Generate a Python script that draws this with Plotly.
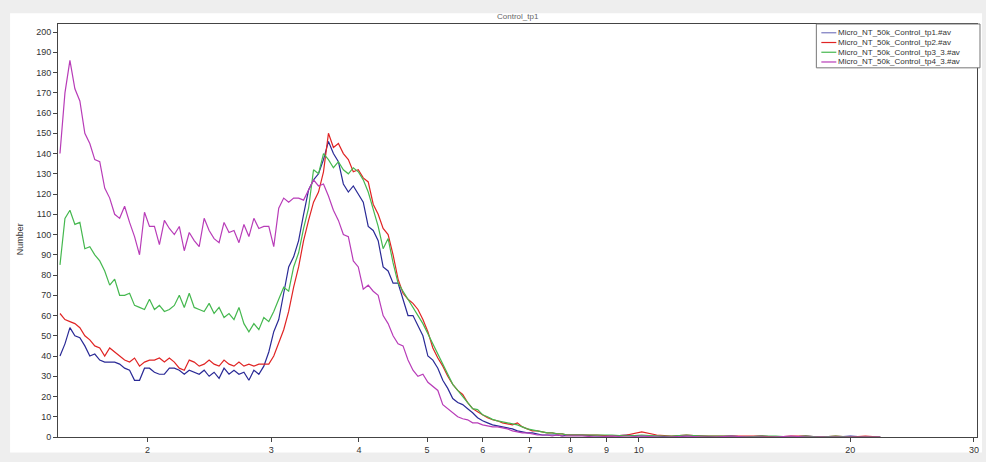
import numpy as np
import plotly.graph_objects as go

# Particle diameter bins (log-spaced instrument bins)
diam_main = np.geomspace(1.5017, 7.910, 103)
diam_tail = np.geomspace(8.31, 22.07, 21)
diameters = np.concatenate([diam_main, diam_tail])

names = ["Micro_NT_50k_Control_tp1.#av", "Micro_NT_50k_Control_tp2.#av",
         "Micro_NT_50k_Control_tp3_3.#av", "Micro_NT_50k_Control_tp4_3.#av"]

tp1_main = [40,46,54,50,49,45,40,41,38,37,
            37,37,36,34,33,28,28,34,34,32,
            31,31,34,34,33,31,33,32,31,33,
            30,32,29,34,31,33,31,32,28,33,
            31,35,42,52,58,71,84,89,97,110,
            122,127,130,137,146,140,136,125,121,124,
            120,116,104,102,97,84,82,76,76,68,
            60,60,55,50,40,38,34,28,24,19,
            17,16,14,12,9.5,8,7,6,5.5,5,
            4.5,4,3,2.5,2,2,1.5,1,1,1,
            1,0.5,1]
tp1_tail = [1,0.5,0.5,1,0.5,0.5,0,0.5,0.5,0,0.5,0,0.5,0,0,0.5,0,0,0.5,0,0]

tp2_main = [61,58,57,56,54,50,48,45,44,40,
            44,42,40,38,37,39,35,37,38,38,
            39,37,39,37,34,33,38,37,35,36,
            38,36,35,38,36,35,37,35,36,35,
            36,36,36,40,47,53,62,74,84,97,
            107,116,121,131,150,143,145,140,137,131,
            132,128,126,115,110,103,100,90,78,71,
            68,66,63,58,52,44,39,35,30,26,
            23,21,17,14,12.5,11,9.5,8.5,8,7,
            6.5,6,7,5,4,3,3,2.5,2,2,
            1.5,1.5,1]
tp2_tail = [1,1,0.5,1,2.5,1,0.5,1,0.5,0.5,0.5,0.5,0.5,0,0.5,0.5,0,0.5,0,0.5,0]

tp3_main = [85,108,112,105,106,93,94,90,87,82,
            75,78,70,70,71,65,64,63,68,63,
            65,62,63,65,70,64,71,64,63,62,
            66,61,64,59,61,58,64,56,52,56,
            53,59,57,62,68,74,72,84,91,103,
            113,132,130,140,137,133,136,132,130,133,
            131,127,121,112,104,93,98,86,76,72,
            68,64,60,56,51,46,41,36,31,26,
            23,20,17,14,13.5,11,10,8.7,8,7.5,
            7,6.3,6,5,4,3.5,3,2.5,2,2,
            1.5,1.5,1]
tp3_tail = [1,1,1,0.5,1,0.5,0.5,1,0.5,0.5,0.5,0,0.5,0.5,0,0.5,0,0.5,0,0,0]

tp4_main = [140,170,186,172,166,150,145,137,136,123,
            118,110,108,114,106,99,90,111,104,104,
            95,107,103,100,104,92,101,97,94,108,
            102,98,96,106,101,102,96,105,99,108,
            103,104,104,94,113,118,116,118,118,117,
            122,127,124,125,119,112,107,100,99,87,
            84,73,75,72,70,60,56,50,46,45,
            38,33,30,31,27,25,23,16,14,12,
            10,9,8.5,7,7,6,5.5,5,5,4.5,
            4,3,2.5,2,2,1.5,1,1,1,0.5,
            1,0.5,0.5]
tp4_tail = [0.5,0,0.5,0,0.5,0,0,0.5,0,0,0.5,0,0,0,0.5,0,0,0,0,0,0]

series = [tp1_main + tp1_tail, tp2_main + tp2_tail, tp3_main + tp3_tail, tp4_main + tp4_tail]
colors = ["#2a2a96", "#e02424", "#45b84f", "#b83cb8"]
legend_colors = ["#7a7ac0", "#e02424", "#45b84f", "#b83cb8"]

x_ticks = [2, 3, 4, 5, 6, 7, 8, 9, 10, 20, 30]
y_ticks = list(range(0, 201, 10))

W, H = 986, 462
ML, MR, MT, MB = 58, 7, 24, 14
PW, PH = W - ML - MR, H - MT - MB


def px(xp):
    return (xp - ML) / PW


def py(yp):
    return (H - MB - yp) / PH


fig = go.Figure()
for n, ys, c in zip(names, series, colors):
    fig.add_trace(go.Scatter(x=diameters, y=ys, mode="lines", name=n,
                             line=dict(color=c, width=1.2), showlegend=False))

axis_font = dict(family="Liberation Sans, Arial", size=9, color="#333333")
txt_font = dict(family="Liberation Sans, Arial", size=9, color="#333333")
leg_font = dict(family="Liberation Sans, Arial", size=8, color="#333333")

shapes = [dict(type="rect", xref="paper", yref="paper", layer="below",
               x0=px(10), x1=px(W - 2), y0=py(H + 2), y1=py(13),
               fillcolor="white", line=dict(width=0))]
annotations = [
    dict(text="Control_tp1", xref="paper", yref="paper", x=0.5,
         y=py(16), showarrow=False, yanchor="middle",
         font=dict(family="Liberation Sans, Arial", size=8, color="#666666")),
    dict(text="Number", xref="paper", yref="paper", x=px(20),
         y=py(245), showarrow=False, textangle=-90,
         xanchor="center", yanchor="middle", font=txt_font),
]

# legend box drawn manually (compact rows like the original)
row_y = [33, 43, 53, 63]
shapes.append(dict(type="rect", xref="paper", yref="paper", layer="above",
                   x0=px(818), x1=px(982), y0=py(69), y1=py(24),
                   fillcolor="white", line=dict(color="#777777", width=1)))
for n, c, ry in zip(names, legend_colors, row_y):
    shapes.append(dict(type="line", xref="paper", yref="paper", layer="above",
                       x0=px(823), x1=px(838), y0=py(ry), y1=py(ry),
                       line=dict(color=c, width=1.2)))
    annotations.append(dict(text=n, xref="paper", yref="paper", x=px(838), y=py(ry),
                            xanchor="left", yanchor="middle", showarrow=False,
                            font=leg_font))

fig.update_layout(
    width=W, height=H,
    margin=dict(l=ML, r=MR, t=MT, b=MB),
    paper_bgcolor="#eeeeee",
    plot_bgcolor="white",
    showlegend=False,
    xaxis=dict(type="log", range=[np.log10(1.492), np.log10(30.3)],
               tickvals=x_ticks, ticktext=[str(t) for t in x_ticks],
               showgrid=False, zeroline=False, showline=True, linecolor="#444444",
               linewidth=1, mirror=True, ticks="outside", ticklen=4, tickcolor="#444444",
               tickfont=axis_font, ticklabeloverflow="allow"),
    yaxis=dict(range=[0, 204], tickvals=y_ticks,
               showgrid=False, zeroline=False, showline=True, linecolor="#444444",
               linewidth=1, mirror=True, ticks="outside", ticklen=4, tickcolor="#444444",
               tickfont=axis_font),
    shapes=shapes,
    annotations=annotations,
)

fig.write_html("out.html", config={"displayModeBar": False},
               post_script="document.body.style.margin='0';document.body.style.overflow='hidden';")
